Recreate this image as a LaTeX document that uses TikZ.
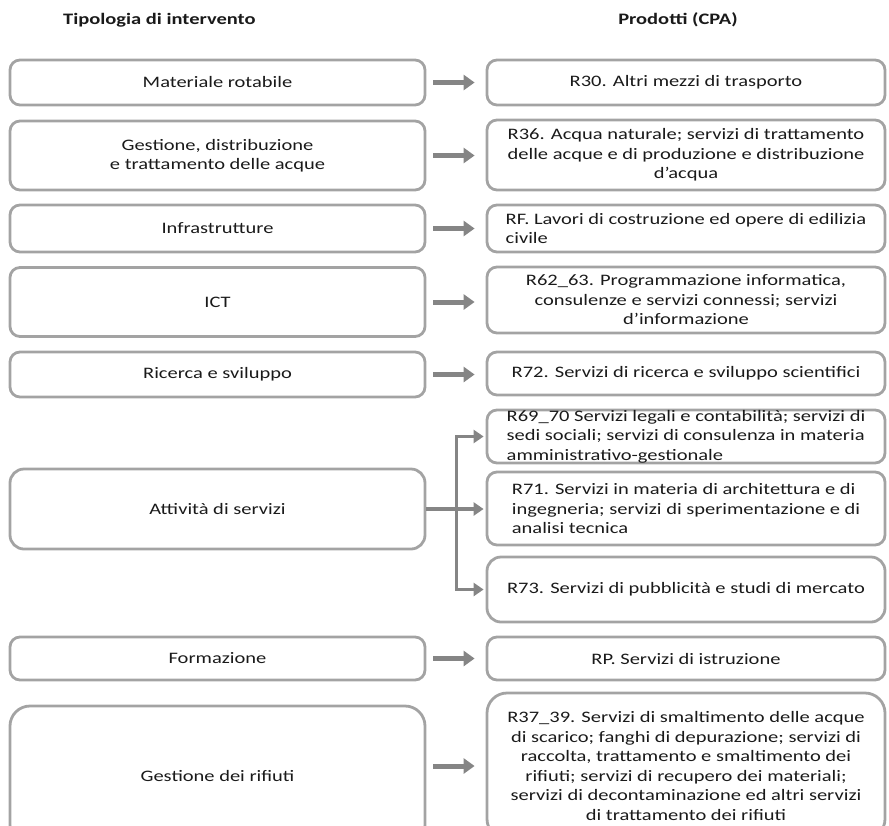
\documentclass[tikz,border=0pt]{standalone}
\usepackage{fontspec}
\setmainfont[FakeStretch=1.28]{Carlito}
\usetikzlibrary{arrows.meta,calc}
\definecolor{boxgray}{HTML}{A3A3A3}
\definecolor{arrgray}{HTML}{858585}
\definecolor{txt}{HTML}{1A1A1A}
\begin{document}
\begin{tikzpicture}[x=1pt,y=-1pt,
  every node/.style={text=txt, font=\fontsize{16}{19.5}\selectfont, inner sep=0pt},
  lbox/.style={draw=boxgray, line width=2.8pt, rounded corners=10pt, minimum width=415pt, align=center},
  rbox/.style={draw=boxgray, line width=2.8pt, rounded corners=10pt, minimum width=398pt, align=center},
  hdr/.style={font=\bfseries\fontsize{16}{20}\selectfont},
  blk/.style={draw=arrgray, line width=5pt, -{Triangle[width=15pt,length=11pt]}, shorten <=7pt, shorten >=11pt},
  branch/.style={draw=arrgray, line width=3.5pt, -{Triangle[width=13pt,length=10pt]}, shorten >=2pt}
]
\useasboundingbox (0,0) rectangle (889,825);
\clip (0,0) rectangle (889,825);

\node[hdr, anchor=west] (h1) at (63,20) {Tipologia di intervento};
\node[hdr] (h2) at (678,20) {Prodotti (CPA)};

% left column
\node[lbox, minimum height=45pt] (l1) at (217.5,82.5) {Materiale rotabile};
\node[lbox, minimum height=69pt] (l2) at (217.5,155.5) {Gestione, distribuzione\\e trattamento delle acque};
\node[lbox, minimum height=47pt] (l3) at (217.5,228.5) {Infrastrutture};
\node[lbox, minimum height=69pt] (l4) at (217.5,302) {ICT};
\node[lbox, minimum height=45pt] (l5) at (217.5,374.5) {Ricerca e sviluppo};
\node[lbox, minimum height=80pt, rounded corners=14pt] (l6) at (217.5,509) {Attività di servizi};
\node[lbox, minimum height=43pt] (l7) at (217.5,658.5) {Formazione};
\node[lbox, minimum height=139pt, rounded corners=20pt] (l8) at (217.5,775.5) {Gestione dei rifiuti};

% right column
\node[rbox, minimum height=45pt] (r1) at (686,82.5) {R30. Altri mezzi di trasporto};
\node[rbox, minimum height=70pt] (r2) at (686,155) {R36. Acqua naturale; servizi di trattamento\\delle acque e di produzione e distribuzione\\d’acqua};
\node[rbox, minimum height=47pt, align=left] (r3) at (686,228.5) {RF. Lavori di costruzione ed opere di edilizia\\civile};
\node[rbox, minimum height=66pt] (r4) at (686,300) {R62\_63. Programmazione informatica,\\consulenze e servizi connessi; servizi\\d’informazione};
\node[rbox, minimum height=43pt] (r5) at (686,373.5) {R72. Servizi di ricerca e sviluppo scientifici};
\node[rbox, minimum height=53pt, align=left] (r6) at (686,436.5) {R69\_70 Servizi legali e contabilità; servizi di\\sedi sociali; servizi di consulenza in materia\\amministrativo-gestionale};
\node[rbox, minimum height=73pt, align=left] (r7) at (686,508.5) {R71. Servizi in materia di architettura e di\\ingegneria; servizi di sperimentazione e di\\analisi tecnica};
\node[rbox, minimum height=65pt, rounded corners=14pt] (r8) at (686,589.5) {R73. Servizi di pubblicità e studi di mercato};
\node[rbox, minimum height=43pt] (r9) at (686,658.5) {RP. Servizi di istruzione};
\node[rbox, minimum height=146pt, rounded corners=20pt] (r10) at (686,766) {R37\_39. Servizi di smaltimento delle acque\\di scarico; fanghi di depurazione; servizi di\\raccolta, trattamento e smaltimento dei\\rifiuti; servizi di recupero dei materiali;\\servizi di decontaminazione ed altri servizi\\di trattamento dei rifiuti};

% simple arrows
\foreach \i in {1,2,3,4,5,7} {
  \draw[blk] (l\i.east) -- (l\i.east -| r\i.west);
}
\draw[blk] (r10.west -| l8.east) -- (r10.west);

% branching arrows
\coordinate (br) at ($(l6.east)+(30,0)$);
\draw[branch] (l6.east) -- (l6.east -| r7.west);
\draw[branch] (br) |- (r6.west);
\draw[branch] (br) |- (r8.west);
\end{tikzpicture}
\end{document}
